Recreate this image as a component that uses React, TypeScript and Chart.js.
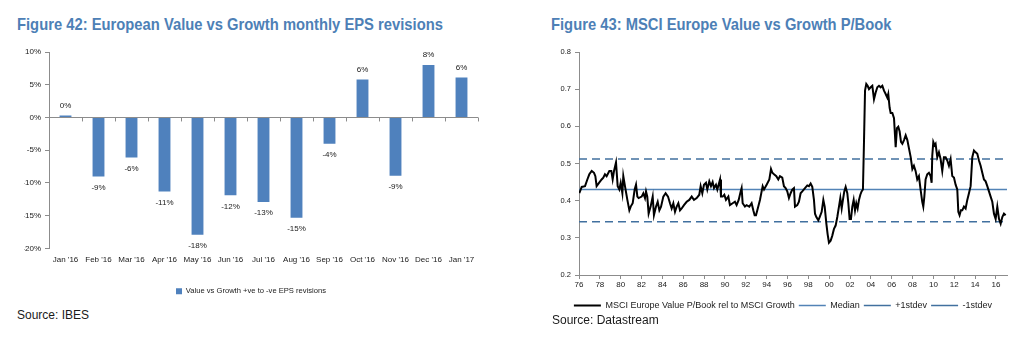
import React, { useEffect, useRef } from 'react';
import { Chart, registerables } from 'chart.js';

Chart.register(...registerables);

const NARROW = "'Liberation Sans Narrow', 'Arial Narrow', 'Liberation Sans', Arial, sans-serif";
const REGULAR = "'Liberation Sans', Arial, sans-serif";

// ---------- Figure 42 data ----------
const epsTitle = 'Figure 42: European Value vs Growth monthly EPS revisions';
const epsSource = 'Source: IBES';
const epsMonths = ["Jan '16", "Feb '16", "Mar '16", "Apr '16", "May '16", "Jun '16", "Jul '16", "Aug '16", "Sep '16", "Oct '16", "Nov '16", "Dec '16", "Jan '17"];
const epsRevisions = [0.3, -9.0, -6.1, -11.3, -17.9, -11.9, -12.9, -15.3, -4.0, 5.8, -8.9, 8.0, 6.1];
const epsSeriesLabel = 'Value vs Growth +ve to -ve EPS revisions';
const epsAxisMin = -20;
const epsAxisMax = 10;
const epsAxisStep = 5;

// ---------- Figure 43 data ----------
const pbTitle = 'Figure 43: MSCI Europe Value vs Growth P/Book';
const pbSource = 'Source: Datastream';
const pbSeriesLabel = 'MSCI Europe Value P/Book rel to MSCI Growth';
const pbYears = [
  1976.03, 1976.26, 1976.58, 1976.80, 1976.99, 1977.22, 1977.44, 1977.57, 1977.69, 1977.92,
  1978.17, 1978.33, 1978.49, 1978.65, 1978.91, 1979.10, 1979.23, 1979.36, 1979.55, 1979.71,
  1979.87, 1980.00, 1980.16, 1980.25, 1980.41, 1980.64, 1980.83, 1980.96, 1981.15, 1981.34,
  1981.47, 1981.60, 1981.72, 1982.01, 1982.17, 1982.33, 1982.43, 1982.55, 1982.68, 1982.87,
  1983.07, 1983.19, 1983.39, 1983.55, 1983.71, 1983.87, 1984.09, 1984.31, 1984.54, 1984.73,
  1984.89, 1985.05, 1985.21, 1985.37, 1985.53, 1985.69, 1985.85, 1986.07, 1986.33, 1986.58,
  1986.81, 1987.03, 1987.29, 1987.54, 1987.67, 1987.83, 1987.99, 1988.18, 1988.31, 1988.50,
  1988.66, 1988.82, 1988.95, 1989.14, 1989.27, 1989.53, 1989.62, 1989.78, 1989.94, 1990.10,
  1990.33, 1990.48, 1990.74, 1990.96, 1991.12, 1991.32, 1991.51, 1991.60, 1991.70, 1991.92,
  1992.08, 1992.34, 1992.56, 1992.72, 1992.85, 1992.98, 1993.20, 1993.36, 1993.62, 1993.75,
  1994.00, 1994.26, 1994.42,
  1994.55, 1994.71, 1994.93, 1995.12, 1995.28, 1995.50, 1995.66, 1995.82, 1995.98, 1996.14,
  1996.30, 1996.46, 1996.62, 1996.72, 1996.94, 1997.10, 1997.26, 1997.42, 1997.68, 1997.90,
  1998.06, 1998.22, 1998.38, 1998.54, 1998.64, 1998.77, 1998.96, 1999.09, 1999.28, 1999.44,
  1999.57, 1999.73, 1999.85, 1999.98, 2000.14, 2000.30, 2000.46, 2000.62, 2000.78, 2000.94,
  2001.07, 2001.20, 2001.32, 2001.45, 2001.58, 2001.74, 2001.84, 2001.96, 2002.09, 2002.22,
  2002.35, 2002.48, 2002.60, 2002.73, 2002.86, 2002.99, 2003.11, 2003.24, 2003.34, 2003.44,
  2003.56, 2003.69, 2003.82, 2003.98, 2004.14, 2004.30, 2004.46, 2004.62, 2004.78, 2004.94,
  2005.10, 2005.26, 2005.42, 2005.58, 2005.67, 2005.80, 2005.90, 2006.06, 2006.22, 2006.38,
  2006.50, 2006.63, 2006.76, 2006.89, 2007.02, 2007.18, 2007.34, 2007.50, 2007.66, 2007.82,
  2007.98, 2008.13, 2008.29, 2008.45, 2008.61, 2008.77, 2008.93, 2009.03, 2009.13, 2009.25,
  2009.41, 2009.57, 2009.73, 2009.83, 2009.89, 2009.99, 2010.12, 2010.21, 2010.37, 2010.53,
  2010.69, 2010.85, 2011.01, 2011.17, 2011.33, 2011.49, 2011.65, 2011.81, 2011.97, 2012.13,
  2012.29, 2012.39, 2012.51, 2012.64, 2012.77, 2012.93, 2013.09, 2013.25, 2013.41, 2013.57,
  2013.73, 2013.89, 2014.05, 2014.21, 2014.37, 2014.53, 2014.69, 2014.85, 2015.01, 2015.17,
  2015.33, 2015.49, 2015.65, 2015.81, 2015.97, 2016.13, 2016.29, 2016.45, 2016.61, 2016.77, 2016.93,
];
const pbValues = [
  0.420, 0.437, 0.439, 0.457, 0.471, 0.480, 0.475, 0.466, 0.439, 0.448,
  0.457, 0.462, 0.471, 0.466, 0.480, 0.480, 0.457, 0.480, 0.503, 0.439,
  0.430, 0.448, 0.420, 0.466, 0.439, 0.402, 0.374, 0.384, 0.393, 0.430,
  0.443, 0.411, 0.407, 0.411, 0.420, 0.407, 0.425, 0.411, 0.365, 0.384,
  0.411, 0.361, 0.384, 0.397, 0.374, 0.384, 0.411, 0.420, 0.411, 0.393,
  0.379, 0.393, 0.370, 0.384, 0.393, 0.374, 0.379, 0.388, 0.397, 0.402,
  0.411, 0.402, 0.407, 0.416, 0.439, 0.420, 0.443, 0.448, 0.430, 0.452,
  0.439, 0.450, 0.434, 0.443, 0.430, 0.457, 0.411, 0.411, 0.416, 0.402,
  0.411, 0.388, 0.393, 0.397, 0.388, 0.402, 0.425, 0.434, 0.393, 0.384,
  0.388, 0.384, 0.393, 0.374, 0.361, 0.361, 0.384, 0.402, 0.439, 0.430,
  0.443, 0.457, 0.485,
  0.475, 0.471, 0.466, 0.457, 0.466, 0.462, 0.439, 0.434, 0.425, 0.407,
  0.420, 0.430, 0.434, 0.384, 0.388, 0.397, 0.420, 0.425, 0.434, 0.441,
  0.439, 0.446, 0.437, 0.402, 0.365, 0.356, 0.347, 0.356, 0.370, 0.402,
  0.384, 0.338, 0.310, 0.287, 0.292, 0.306, 0.324, 0.333, 0.356, 0.384,
  0.407, 0.379, 0.402, 0.425, 0.437, 0.420, 0.393, 0.351, 0.351, 0.384,
  0.402, 0.374, 0.393, 0.379, 0.402, 0.416, 0.425, 0.430, 0.558, 0.696,
  0.714, 0.709, 0.700, 0.705, 0.709, 0.673, 0.691, 0.705, 0.709, 0.705,
  0.709, 0.696, 0.687, 0.677, 0.687, 0.650, 0.636, 0.636, 0.622, 0.544,
  0.595, 0.599, 0.586, 0.558, 0.553, 0.563, 0.576, 0.563, 0.540, 0.517,
  0.485, 0.494, 0.480, 0.457, 0.466, 0.430, 0.397, 0.384, 0.411, 0.457,
  0.471, 0.475, 0.466, 0.448, 0.521, 0.558, 0.549, 0.553, 0.517, 0.530,
  0.512, 0.480, 0.517, 0.517, 0.508, 0.494, 0.512, 0.466, 0.462, 0.443,
  0.430, 0.370, 0.361, 0.374, 0.374, 0.384, 0.379, 0.402, 0.420, 0.439,
  0.517, 0.535, 0.530, 0.526, 0.508, 0.494, 0.475, 0.457, 0.452, 0.439,
  0.425, 0.411, 0.397, 0.365, 0.351, 0.384, 0.351, 0.338, 0.356, 0.365, 0.361,
];
const pbMedian = 0.43;
const pbPlusStd = 0.512;
const pbMinusStd = 0.343;
const pbXMin = 1976;
const pbXMax = 2017.06;
const pbYMin = 0.2;
const pbYMax = 0.8;
const pbLabels = ['Median', '+1stdev', '-1stdev'];

const BAR_BLUE = '#4f81bd';
const MEDIAN_BLUE = '#5283b6';
const DASH_BLUE = '#41709f';
const AXIS_GREY = '#8c8c8c';
const TITLE_BLUE = '#4d80b6';

const barLabelPlugin = {
  id: 'barLabels',
  afterDatasetsDraw(chart: any) {
    const ctx = chart.ctx;
    const meta = chart.getDatasetMeta(0);
    const data = chart.data.datasets[0].data as number[];
    ctx.save();
    ctx.font = `8px ${NARROW}`;
    ctx.fillStyle = '#1a1a1a';
    ctx.textAlign = 'center';
    ctx.textBaseline = 'middle';
    meta.data.forEach((bar: any, i: number) => {
      const v = data[i];
      const txt = `${Math.round(v)}%`;
      const y = v >= 0 ? bar.y - 10 : bar.y + 11;
      ctx.fillText(txt, bar.x, y);
    });
    ctx.restore();
  },
};

const zeroTickPlugin = {
  id: 'zeroTicks',
  afterDatasetsDraw(chart: any) {
    const ctx = chart.ctx;
    const area = chart.chartArea;
    const y0 = chart.scales.y.getPixelForValue(0);
    const n = chart.data.labels.length;
    const w = (area.right - area.left) / n;
    ctx.save();
    ctx.strokeStyle = AXIS_GREY;
    ctx.lineWidth = 1;
    ctx.beginPath();
    for (let i = 1; i <= n; i++) {
      const x = Math.round(area.left + i * w) + 0.5;
      ctx.moveTo(x, y0);
      ctx.lineTo(x, y0 + 4);
    }
    ctx.stroke();
    ctx.restore();
  },
};

function EpsChart() {
  const ref = useRef<HTMLCanvasElement>(null);
  useEffect(() => {
    const chart = new Chart(ref.current!, {
      type: 'bar',
      data: {
        labels: epsMonths,
        datasets: [
          {
            label: epsSeriesLabel,
            data: epsRevisions,
            backgroundColor: BAR_BLUE,
            borderWidth: 0,
            barPercentage: 0.36,
            categoryPercentage: 1,
          },
        ],
      },
      options: {
        animation: false,
        responsive: false,
        maintainAspectRatio: false,
        layout: { padding: { left: 24, right: 38, top: 12, bottom: 0 } },
        plugins: {
          legend: {
            display: true,
            position: 'bottom',
            labels: {
              boxWidth: 6,
              boxHeight: 6,
              padding: 10,
              color: '#1a1a1a',
              font: { family: NARROW, size: 7.6 },
            },
          },
          tooltip: { enabled: false },
        },
        scales: {
          x: {
            grid: { display: false, drawTicks: false, tickLength: 0 },
            border: { display: false },
            ticks: {
              color: '#1a1a1a',
              font: { family: NARROW, size: 8 },
              maxRotation: 0,
              autoSkip: false,
              padding: 7,
            },
            afterFit: (s: any) => { s.height = 29; },
          },
          y: {
            min: epsAxisMin,
            max: epsAxisMax,
            ticks: {
              stepSize: epsAxisStep,
              color: '#1a1a1a',
              font: { family: NARROW, size: 8 },
              callback: (v: any) => `${v}%`,
              padding: 4,
            },
            grid: {
              color: (c: any) => (c.tick && c.tick.value === 0 ? AXIS_GREY : 'rgba(0,0,0,0)'),
              tickColor: AXIS_GREY,
              tickLength: 4,
              lineWidth: 1,
            },
            border: { display: true, color: AXIS_GREY, width: 1 },
            afterFit: (s: any) => { s.width = 25; },
          },
        },
      },
      plugins: [barLabelPlugin, zeroTickPlugin],
    } as any);
    return () => chart.destroy();
  }, []);
  return <canvas ref={ref} width={516} height={265} style={{ position: 'absolute', left: 0, top: 40, width: 516, height: 265 }} />;
}

function PbChart() {
  const ref = useRef<HTMLCanvasElement>(null);
  useEffect(() => {
    const flat = (v: number) => [{ x: pbXMin, y: v }, { x: pbXMax, y: v }];
    const chart = new Chart(ref.current!, {
      type: 'line',
      data: {
        datasets: [
          {
            label: pbSeriesLabel,
            data: pbYears.map((x, i) => ({ x, y: pbValues[i] })),
            borderColor: '#000000',
            backgroundColor: '#000000',
            borderWidth: 2,
            pointRadius: 0,
            tension: 0,
          },
          {
            label: pbLabels[0],
            data: flat(pbMedian),
            borderColor: MEDIAN_BLUE,
            backgroundColor: MEDIAN_BLUE,
            borderWidth: 1.5,
            pointRadius: 0,
          },
          {
            label: pbLabels[1],
            data: flat(pbPlusStd),
            borderColor: DASH_BLUE,
            backgroundColor: DASH_BLUE,
            borderWidth: 1.5,
            borderDash: [8, 5],
            pointRadius: 0,
          },
          {
            label: pbLabels[2],
            data: flat(pbMinusStd),
            borderColor: DASH_BLUE,
            backgroundColor: DASH_BLUE,
            borderWidth: 1.5,
            borderDash: [8, 5],
            pointRadius: 0,
          },
        ],
      },
      options: {
        animation: false,
        responsive: false,
        maintainAspectRatio: false,
        layout: { padding: { left: 4, right: 8, top: 12, bottom: 3 } },
        plugins: {
          legend: {
            display: true,
            position: 'bottom',
            labels: {
              usePointStyle: true,
              pointStyle: 'line',
              pointStyleWidth: 27,
              padding: 4,
              color: '#1a1a1a',
              font: { family: NARROW, size: 9 },
            },
          },
          tooltip: { enabled: false },
        },
        scales: {
          x: {
            type: 'linear',
            min: pbXMin,
            max: pbXMax,
            afterBuildTicks: (s: any) => {
              s.ticks = s.ticks.filter((t: any) => {
                const r = Math.round(t.value);
                return Math.abs(t.value - r) < 1e-6 && r % 2 === 0 && r <= 2016 && r >= 1976;
              });
            },
            ticks: {
              stepSize: 2,
              includeBounds: false,
              autoSkip: false,
              maxRotation: 0,
              color: '#1a1a1a',
              font: { family: NARROW, size: 8 },
              callback: (v: any) => String(Math.round(Number(v)) % 100).padStart(2, '0'),
              padding: 1,
            },
            grid: { drawOnChartArea: false, color: AXIS_GREY, tickLength: 4 },
            border: { display: true, color: AXIS_GREY },
            afterFit: (s: any) => { s.height = 22; },
          },
          y: {
            min: pbYMin,
            max: pbYMax,
            ticks: {
              stepSize: 0.1,
              color: '#1a1a1a',
              font: { family: NARROW, size: 7.5 },
              callback: (v: any) => Number(v).toFixed(1),
              padding: 4,
            },
            grid: { drawOnChartArea: false, color: AXIS_GREY, tickLength: 4 },
            border: { display: true, color: AXIS_GREY },
            afterFit: (s: any) => { s.width = 20; },
          },
        },
      },
    } as any);
    return () => chart.destroy();
  }, []);
  return <canvas ref={ref} width={460} height={283} style={{ position: 'absolute', left: 555, top: 40, width: 460, height: 283 }} />;
}

const titleStyle: React.CSSProperties = {
  position: 'absolute',
  top: 14,
  fontFamily: NARROW,
  fontWeight: 'bold',
  fontSize: 16.5,
  color: TITLE_BLUE,
  whiteSpace: 'nowrap',
  lineHeight: '20px',
  transformOrigin: '0 50%',
  transform: 'scaleX(0.895)',
};

const sourceStyle: React.CSSProperties = {
  position: 'absolute',
  fontFamily: REGULAR,
  fontSize: 12,
  color: '#1a1a1a',
  whiteSpace: 'nowrap',
  lineHeight: '14px',
};

export default function App() {
  return (
    <div style={{ position: 'fixed', left: 0, top: 0, width: 1017, height: 344, background: '#fff', overflow: 'hidden' }}>
      <div style={{ ...titleStyle, left: 17 }}>{epsTitle}</div>
      <div style={{ ...titleStyle, left: 551 }}>{pbTitle}</div>
      <EpsChart />
      <PbChart />
      <div style={{ ...sourceStyle, left: 17, top: 308 }}>{epsSource}</div>
      <div style={{ ...sourceStyle, left: 552, top: 313 }}>{pbSource}</div>
    </div>
  );
}
